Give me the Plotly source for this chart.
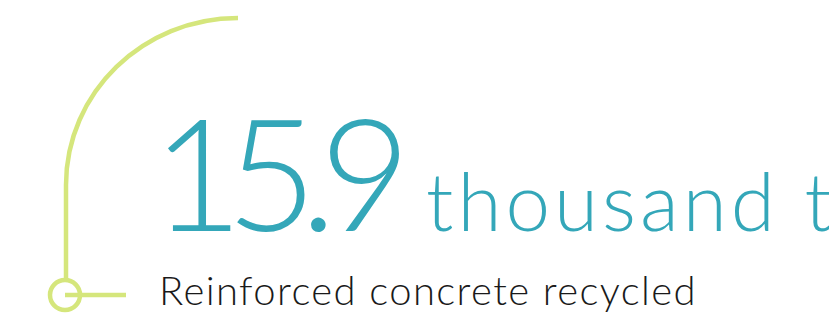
import plotly.graph_objects as go

value_text = "15.9"
unit_text = "thousand t"
label_text = "Reinforced concrete recycled"

TEAL = "#34a7b9"
GREEN = "#d5e67c"
FONT = "Lato"

W, H = 837, 317
OFF = 8  # page body margin: axis units == page pixels

fig = go.Figure()

# decorative arc + vertical line
k = 0.5523
x0, y0 = 238, 18
xc, yc = 66, 185
rx, ry = x0 - xc, yc - y0
path = (f"M {x0},{y0} C {x0 - k*rx},{y0} {xc},{yc - k*ry} {xc},{yc} "
        f"L {xc},279")
fig.add_shape(type="path", path=path, xref="x", yref="y",
              line=dict(color=GREEN, width=4.5))
fig.add_shape(type="circle", xref="x", yref="y", x0=50, y0=280, x1=80, y1=310,
              line=dict(color=GREEN, width=4.5))
fig.add_shape(type="line", xref="x", yref="y", x0=65, y0=295, x1=126, y1=295,
              line=dict(color=GREEN, width=4.5))

fig.add_annotation(x=150, y=266, xref="x", yref="y",
                   text=f'<span style="letter-spacing:-17px">{value_text}</span>',
                   showarrow=False, xanchor="left", yanchor="bottom",
                   font=dict(family=FONT, size=157, color=TEAL, weight=300))
fig.add_annotation(x=424, y=250, xref="x", yref="y",
                   text=f'<span style="letter-spacing:4px">{unit_text}</span>',
                   showarrow=False, xanchor="left", yanchor="bottom",
                   font=dict(family=FONT, size=80, color=TEAL, weight=300))
fig.add_annotation(x=157, y=316, xref="x", yref="y",
                   text=f'<span style="letter-spacing:1.4px">{label_text}</span>',
                   showarrow=False, xanchor="left", yanchor="bottom",
                   font=dict(family=FONT, size=40, color="#1a1a1a", weight=300))

fig.update_layout(
    width=W, height=H,
    margin=dict(l=0, r=0, t=0, b=0),
    paper_bgcolor="white", plot_bgcolor="white",
    xaxis=dict(range=[OFF, W + OFF], visible=False, fixedrange=True),
    yaxis=dict(range=[H + OFF, OFF], visible=False, fixedrange=True),
    showlegend=False,
)
fig.write_html("out.html")
